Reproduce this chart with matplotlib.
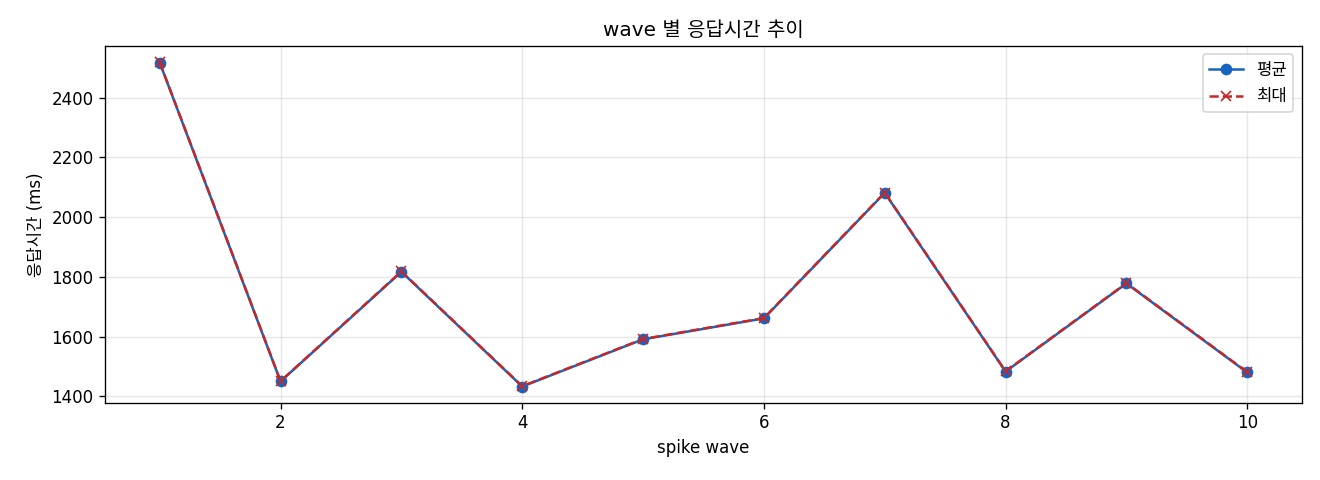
import numpy as np
import matplotlib.pyplot as plt

plt.rcParams['font.family'] = ['DejaVu Sans', 'Noto Sans CJK KR']
plt.rcParams['axes.unicode_minus'] = False

# wave별 응답시간 (ms)
waves = [1, 2, 3, 4, 5, 6, 7, 8, 9, 10]
avg_ms = [2517, 1450, 1817, 1433, 1591, 1661, 2081, 1483, 1778, 1480]
max_ms = [2518, 1451, 1818, 1434, 1592, 1662, 2082, 1484, 1779, 1481]

fig, ax = plt.subplots(figsize=(11, 4), dpi=120)
ax.plot(waves, avg_ms, marker='o', color='#1565C0', label='평균')
ax.plot(waves, max_ms, marker='x', linestyle='--', color='#C62828', label='최대')

ax.set_title('wave 별 응답시간 추이')
ax.set_xlabel('spike wave')
ax.set_ylabel('응답시간 (ms)')
ax.grid(True, alpha=0.3)
ax.legend()

fig.subplots_adjust(left=0.0798, right=0.9861, bottom=0.161, top=0.904)
plt.savefig('out.png')
